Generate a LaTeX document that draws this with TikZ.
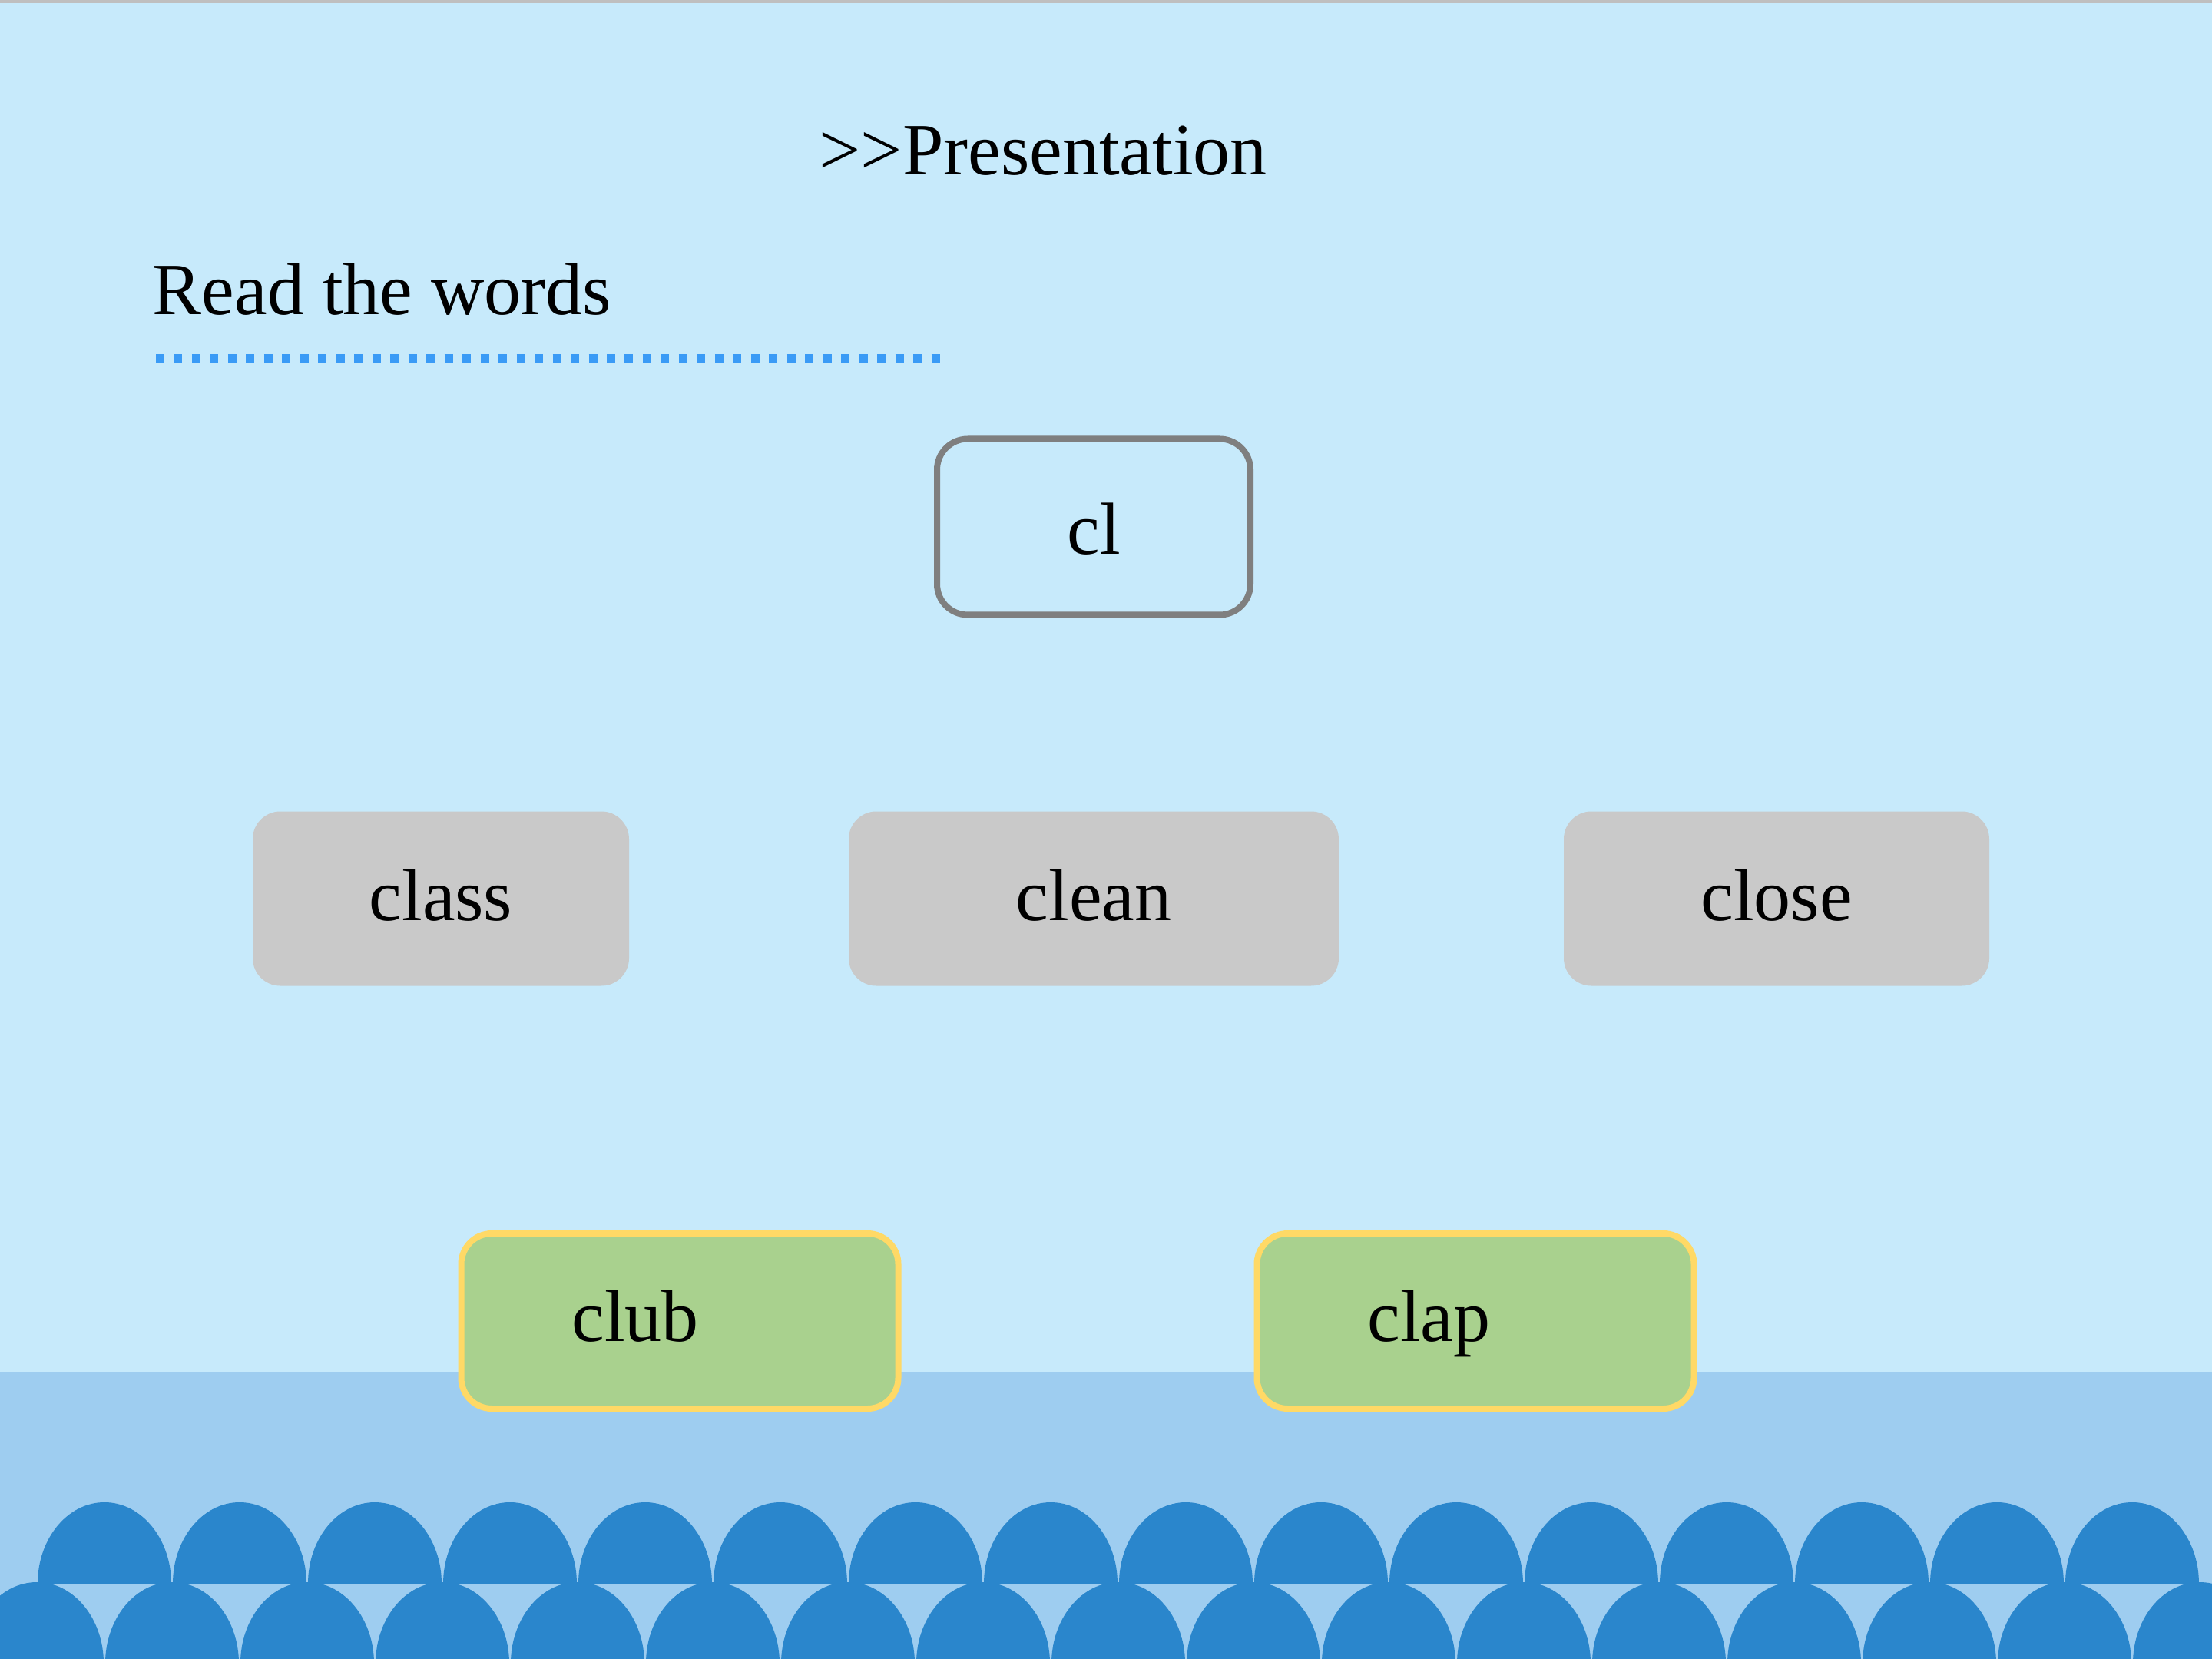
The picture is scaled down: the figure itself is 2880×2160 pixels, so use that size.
\documentclass[tikz,border=0pt]{standalone}
\usepackage{fontspec}
\setmainfont{Liberation Serif}
\definecolor{skyback}{HTML}{C7EAFB}
\definecolor{seaband}{HTML}{9ECDF0}
\definecolor{wavecol}{HTML}{2A86CC}
\definecolor{dotblue}{HTML}{3A9BF6}
\definecolor{boxgray}{HTML}{C9C9C9}
\definecolor{keygray}{HTML}{7F7F7F}
\definecolor{leafgreen}{HTML}{A9D18E}
\definecolor{sunyellow}{HTML}{FFD966}
\definecolor{edgegray}{HTML}{BFBFBF}

\begin{document}
\begin{tikzpicture}[x=0.25pt,y=-0.25pt,
    bigfont/.style={font=\fontsize{24}{28}\selectfont},
    wordtext/.style={bigfont, text height=17pt, text depth=3pt},
    graybox/.style={wordtext, fill=boxgray, rounded corners=9pt, minimum height=56.75pt, inner sep=0pt},
    keybox/.style={wordtext, text height=19pt, text depth=1pt, draw=keygray, line width=2pt, rounded corners=10pt,
      minimum width=102pt, minimum height=57.25pt, inner sep=0pt},
    greenbox/.style={wordtext, text height=16pt, fill=leafgreen, draw=sunyellow, line width=2pt, rounded corners=10pt,
      minimum height=57pt, inner xsep=36pt, inner ysep=0pt, text width=70.25pt, align=left},
    dome/.style={fill=wavecol}]
  \useasboundingbox (0,0) rectangle (2880,2160);
  \begin{scope}
    \clip (0,0) rectangle (2880,2160);
    % sky and sea
    \fill[skyback] (0,0) rectangle (2880,2160);
    \fill[seaband] (0,1786) rectangle (2880,2160);
    \fill[edgegray] (0,0) rectangle (2880,4);
    % two rows of waves
    \foreach \i in {0,...,15}
      \fill[dome] ({49+176*\i},2062) arc[start angle=180, end angle=0, x radius=21.75pt, y radius=26.5pt] -- cycle;
    \foreach \i in {0,...,16}
      \fill[dome] ({-39+176*\i},2166) arc[start angle=180, end angle=0, x radius=21.75pt, y radius=26.5pt] -- cycle;
  \end{scope}

  % headings
  \node[bigfont, anchor=base west, inner sep=0pt] (title) at (1066,228) {>\kern0pt>Presentation};
  \node[bigfont, anchor=base west, inner sep=0pt] (task) at (198,410) {Read the words};
  \draw[dotblue, line width=2.75pt, dash pattern=on 2.75pt off 3.12pt] (203,467) -- (1226,467);

  % sound box
  \node[keybox] (cl) at (1424,686) {cl};

  % words
  \node[graybox, minimum width=122.5pt] (class) at (574,1170) {class};
  \node[graybox, minimum width=159.5pt] (clean) at (1424,1170) {clean};
  \node[graybox, minimum width=138.5pt] (close) at (2313,1170) {close};

  \node[greenbox] (club) at (885,1720) {club};
  \node[greenbox] (clap) at (1921,1720) {clap};
\end{tikzpicture}
\end{document}
